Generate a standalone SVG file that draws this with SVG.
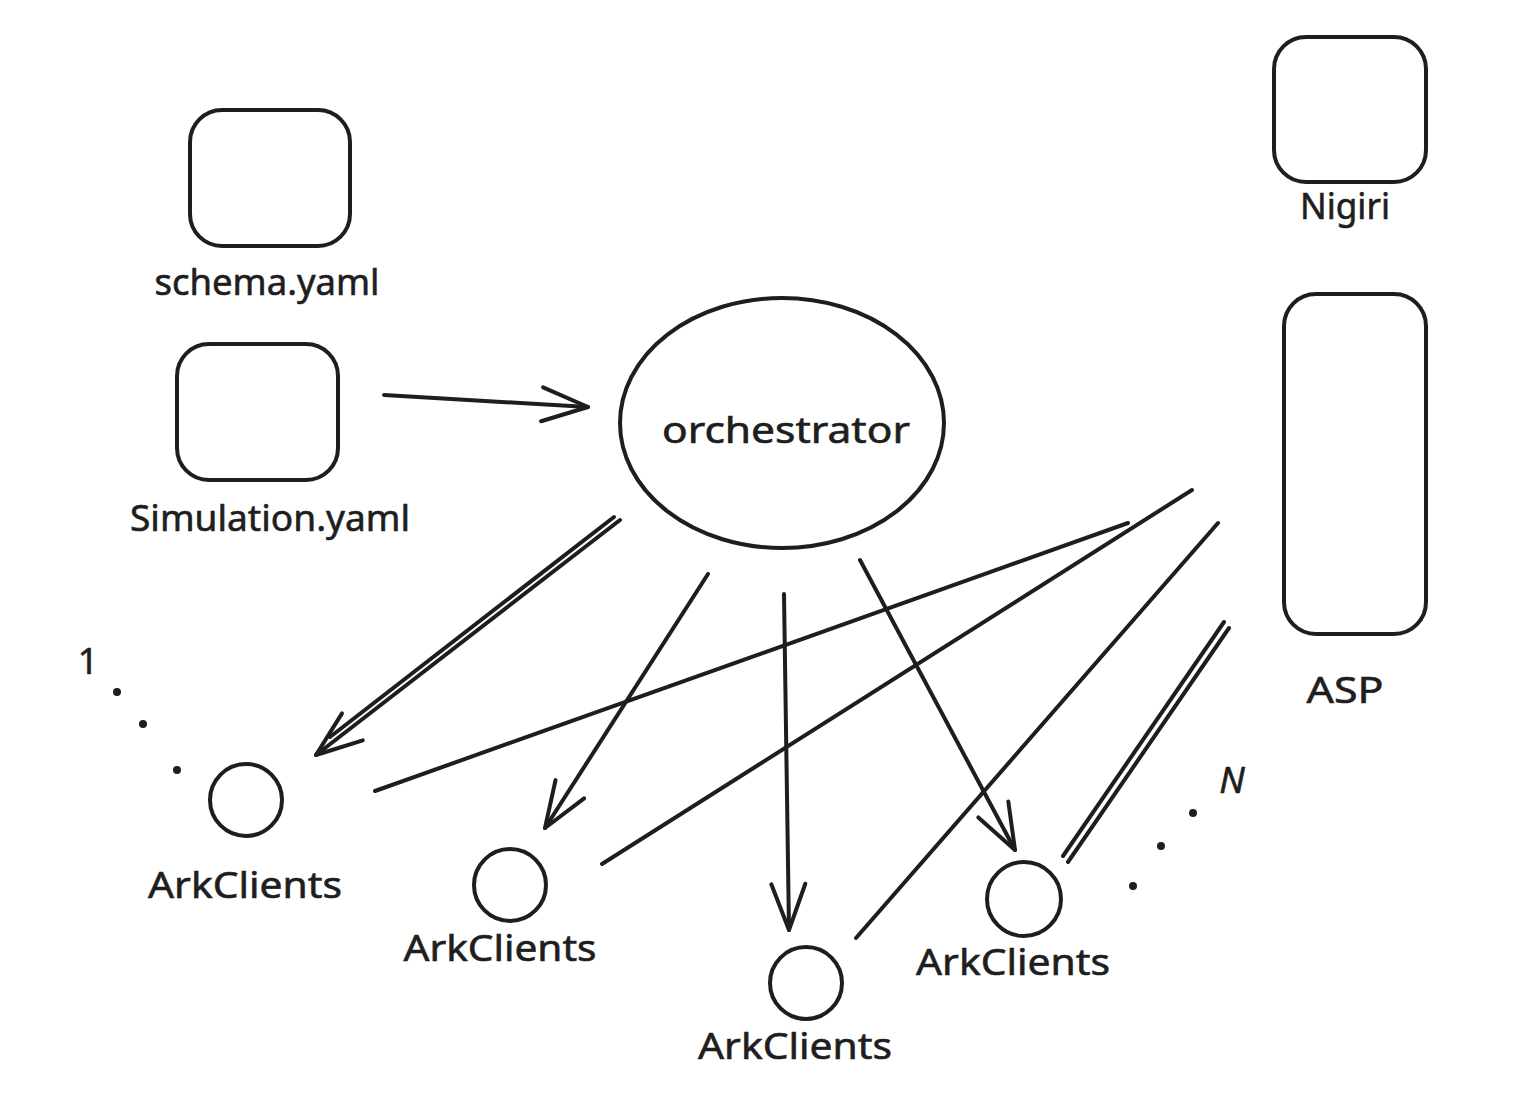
<svg xmlns="http://www.w3.org/2000/svg" width="1520" height="1100" viewBox="0 0 1520 1100">
<style>
.s{fill:none;stroke:#1e1e1e;stroke-width:4;stroke-linecap:round;stroke-linejoin:round}
.t{font-family:"Noto Sans","Liberation Sans",sans-serif;font-size:36px;fill:#1e1e1e;text-anchor:middle;stroke:#1e1e1e;stroke-width:0.6}
.d{fill:#1e1e1e}
</style>
<defs>
<marker id="ah" markerUnits="userSpaceOnUse" markerWidth="60" markerHeight="60" viewBox="-50 -25 60 50" refX="0" refY="0" orient="auto">
<path d="M-46,-17 L0,0 L-46,17" fill="none" stroke="#1e1e1e" stroke-width="4" stroke-linecap="round" stroke-linejoin="round"/>
</marker>
</defs>
<rect width="1520" height="1100" fill="#ffffff"/>
<g id="schema">
<rect class="s" x="190" y="110" width="160" height="136" rx="32"/>
<text class="t" x="267" y="295" textLength="225" lengthAdjust="spacingAndGlyphs">schema.yaml</text>
</g>
<g id="simulation">
<rect class="s" x="177" y="344" width="161" height="136" rx="32"/>
<text class="t" x="270" y="531" textLength="280" lengthAdjust="spacingAndGlyphs">Simulation.yaml</text>
</g>
<g id="orchestrator">
<ellipse class="s" cx="782" cy="423" rx="162" ry="125"/>
<text class="t" x="786" y="443" textLength="248" lengthAdjust="spacingAndGlyphs">orchestrator</text>
</g>
<g id="nigiri">
<rect class="s" x="1274" y="37" width="152" height="145" rx="32"/>
<text class="t" x="1345" y="219" textLength="90" lengthAdjust="spacingAndGlyphs">Nigiri</text>
</g>
<g id="asp">
<rect class="s" x="1284" y="294" width="142" height="340" rx="32"/>
<text class="t" x="1345" y="703" textLength="77" lengthAdjust="spacingAndGlyphs">ASP</text>
</g>
<g id="client1">
<circle class="s" cx="246" cy="800" r="36"/>
<text class="t" x="245" y="898" textLength="194" lengthAdjust="spacingAndGlyphs">ArkClients</text>
</g>
<g id="client2">
<circle class="s" cx="510" cy="885" r="36"/>
<text class="t" x="500" y="961" textLength="193" lengthAdjust="spacingAndGlyphs">ArkClients</text>
</g>
<g id="client3">
<circle class="s" cx="806" cy="983" r="36"/>
<text class="t" x="795" y="1059" textLength="194" lengthAdjust="spacingAndGlyphs">ArkClients</text>
</g>
<g id="client4">
<circle class="s" cx="1024" cy="899" r="37"/>
<text class="t" x="1013" y="975" textLength="194" lengthAdjust="spacingAndGlyphs">ArkClients</text>
</g>
<g id="range-left">
<text class="t" x="88" y="674">1</text>
<circle class="d" cx="117" cy="692" r="4"/>
<circle class="d" cx="143" cy="724" r="4"/>
<circle class="d" cx="177" cy="770" r="4"/>
</g>
<g id="range-right">
<text class="t" x="1232" y="793" font-style="italic">N</text>
<circle class="d" cx="1193" cy="813" r="4"/>
<circle class="d" cx="1161" cy="846" r="4"/>
<circle class="d" cx="1133" cy="886" r="4"/>
</g>
<g id="connectors">
<path class="s" d="M384,395 L588,407" marker-end="url(#ah)"/>
<path class="s" d="M620,520 L316,755" marker-end="url(#ah)"/>
<path class="s" d="M614,517 L330,737" stroke-width="2.5"/>
<path class="s" d="M708,574 L545,828" marker-end="url(#ah)"/>
<path class="s" d="M784,594 L789,930" marker-end="url(#ah)"/>
<path class="s" d="M860,560 L1015,850" marker-end="url(#ah)"/>
<path class="s" d="M1128,523 L375,791" stroke-width="5"/>
<path class="s" d="M1192,490 L602,864"/>
<path class="s" d="M1218,523 L856,938"/>
<path class="s" d="M1224,622 L1063,856"/>
<path class="s" d="M1229,628 L1068,862" stroke-width="3"/>
</g>
</svg>
